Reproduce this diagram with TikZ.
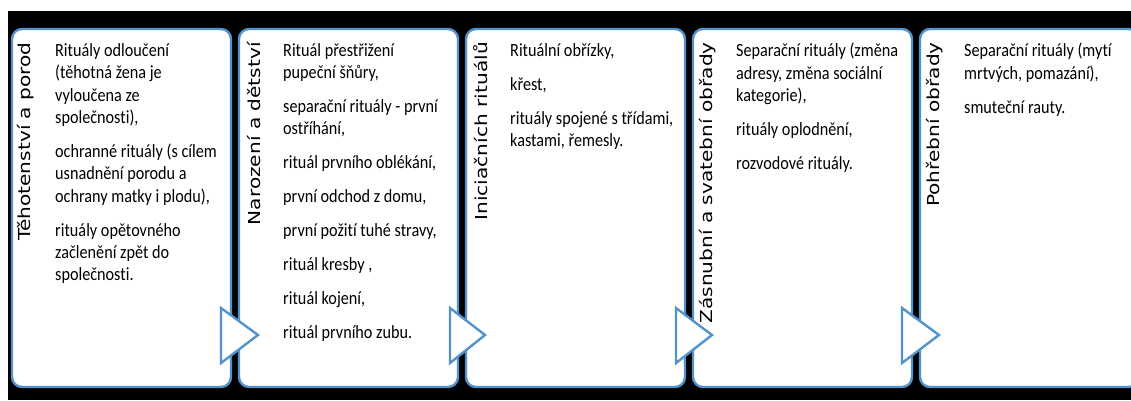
\documentclass[tikz,border=0pt]{standalone}
\usepackage{fontspec}
\setmainfont{Carlito}[Ligatures=NoCommon]
\newfontfamily\headfont{DejaVu Sans}
\usetikzlibrary{positioning,calc}
\definecolor{stageblue}{RGB}{84,146,204}

\begin{document}
\begin{tikzpicture}[x=1pt, y=-1pt,
    stage/.style={draw=stageblue, line width=2.4pt, fill=white, rounded corners=10pt,
      minimum width=219pt, minimum height=358pt, inner sep=0pt, outer sep=0pt},
    stagetitle/.style={rotate=90, xscale=1.22, anchor=east, inner sep=0pt,
      font=\headfont\fontsize{16.5}{18}\selectfont},
    stagetext/.style={anchor=north west, inner sep=0pt, align=left, yscale=1.15,
      font=\fontsize{16.2}{19.5}\selectfont},
    pointer/.style={draw=stageblue, line width=2.4pt, fill=white, line join=miter}]
  \useasboundingbox (0,0) rectangle (1131,400);
  \clip (0,0) rectangle (1131,400);
  \fill[black] (8,11) rectangle (1131,400);

  \node[stage, anchor=north west] (b1) at (12,29) {};
  \node[stage, right=8pt of b1] (b2) {};
  \node[stage, right=8pt of b2] (b3) {};
  \node[stage, right=8pt of b3] (b4) {};
  \node[stage, right=8pt of b4] (b5) {};

  \draw[pointer] ($(b1.south east)+(-10,-79)$) -- ($(b2.south west)+(19,-52)$)
    -- ($(b1.south east)+(-10,-24)$) -- cycle;
  \draw[pointer] ($(b2.south east)+(-8,-79)$) -- ($(b3.south west)+(19,-52)$)
    -- ($(b2.south east)+(-8,-24)$) -- cycle;
  \draw[pointer] ($(b3.south east)+(-9,-79)$) -- ($(b4.south west)+(19,-52)$)
    -- ($(b3.south east)+(-9,-24)$) -- cycle;
  \draw[pointer] ($(b4.south east)+(-10,-79)$) -- ($(b5.south west)+(19,-52)$)
    -- ($(b4.south east)+(-10,-24)$) -- cycle;

  \node[stagetitle] (t1) at ($(b1.north west)+(14,13)$) {Těhotenství a porod};
  \node[stagetitle] (t2) at ($(b2.north west)+(15,13)$) {Narození a dětství};
  \node[stagetitle] (t3) at ($(b3.north west)+(15,13)$) {Iniciačních rituálů};
  \node[stagetitle] (t4) at ($(b4.north west)+(15,13)$) {Zásnubní a svatební obřady};
  \node[stagetitle] (t5) at ($(b5.north west)+(15,13)$) {Pohřební obřady};

  \node[stagetext] (x1) at ($(b1.north west)+(43,14)$) {Rituály odloučení\\
    (těhotná žena je\\ vyloučena ze\\ společnosti),\\[10pt]
    ochranné rituály (s cílem\\ usnadnění porodu a\\ ochrany matky i plodu),\\[10pt]
    rituály opětovného\\ začlenění zpět do\\ společnosti.};
  \node[stagetext] (x2) at ($(b2.north west)+(44,14)$) {Rituál přestřižení\\
    pupeční šňůry,\\[10pt]
    separační rituály - první\\ ostříhání,\\[10pt]
    rituál prvního oblékání,\\[10pt]
    první odchod z domu,\\[10pt]
    první požití tuhé stravy,\\[10pt]
    rituál kresby ,\\[10pt]
    rituál kojení,\\[10pt]
    rituál prvního zubu.};
  \node[stagetext] (x3) at ($(b3.north west)+(44,14)$) {Rituální obřízky,\\[10pt]
    křest,\\[10pt]
    rituály spojené s třídami,\\ kastami, řemesly.};
  \node[stagetext] (x4) at ($(b4.north west)+(43,14)$) {Separační rituály (změna\\
    adresy, změna sociální\\ kategorie),\\[10pt]
    rituály oplodnění,\\[10pt]
    rozvodové rituály.};
  \node[stagetext] (x5) at ($(b5.north west)+(44,14)$) {Separační rituály (mytí\\
    mrtvých, pomazání),\\[10pt]
    smuteční rauty.};
\end{tikzpicture}
\end{document}
